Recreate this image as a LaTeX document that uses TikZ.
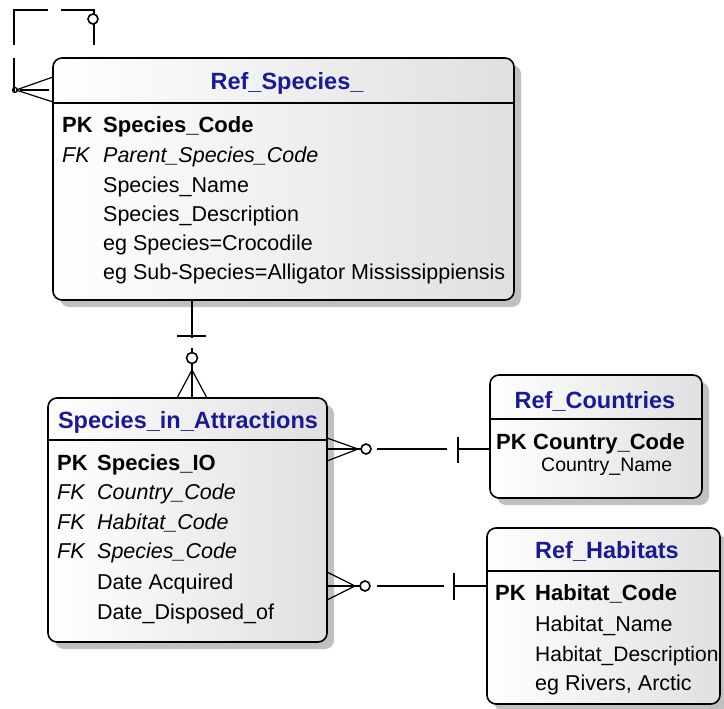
\documentclass[tikz,border=0pt]{standalone}
\usepackage{fontspec}
\setmainfont{Liberation Sans}
\usetikzlibrary{shadows}
\definecolor{titleblue}{RGB}{26,26,150}
\definecolor{boxgray}{RGB}{224,224,224}
\definecolor{shadowgray}{RGB}{192,192,192}
\begin{document}
\begin{tikzpicture}[x=1pt,y=-1pt,
  entity/.style={draw=black, line width=1.6pt, rounded corners=9pt, left color=white, right color=boxgray,
    inner sep=0pt, outer sep=0pt, anchor=north west,
    drop shadow={shadow xshift=7pt, shadow yshift=-7pt, fill=shadowgray, opacity=1}},
  ttl/.style={font=\fontsize{23.5}{28}\selectfont\bfseries, text=titleblue, anchor=base, inner sep=0pt},
  fld/.style={font=\fontsize{21.5}{25}\selectfont, anchor=base west, inner sep=0pt},
  pkstyle/.style={fld, font=\fontsize{22}{25}\selectfont\bfseries},
  fkstyle/.style={fld, font=\fontsize{21.5}{25}\selectfont\itshape},
  hdrline/.style={line width=1.6pt},
  relline/.style={line width=1.6pt},
  crowfoot/.style={line width=1.2pt}]
\useasboundingbox (0,0) rectangle (724,709);

% ---------- Ref_Species_ ----------
\node[entity, minimum width=461pt, minimum height=242pt] (rs) at (53,58) {};
\draw[hdrline] (53,103) -- (514,103);
\node[ttl] (rsT) at (287,90) {Ref\_Species\_};
\node[pkstyle] (rsK1) at (62,132) {PK};
\node[pkstyle] (rsF1) at (103,132) {Species\_Code};
\node[fkstyle] (rsK2) at (62,163) {FK};
\node[fkstyle] (rsF2) at (103,163) {Parent\_Species\_Code};
\node[fld] (rsF3) at (103,192) {Species\_Name};
\node[fld] (rsF4) at (103,221) {Species\_Description};
\node[fld] (rsF5) at (103,250) {eg Species=Crocodile};
\node[fld] (rsF6) at (103,279) {eg Sub-Species=Alligator Mississippiensis};

% ---------- Species_in_Attractions ----------
\node[entity, minimum width=279pt, minimum height=244pt] (sia) at (48,398) {};
\draw[hdrline] (48,440) -- (327,440);
\node[ttl] (siaT) at (188,428) {Species\_in\_Attractions};
\node[pkstyle] (siaK1) at (57,470) {PK};
\node[pkstyle] (siaF1) at (97,470) {Species\_IO};
\node[fkstyle] (siaK2) at (57,499) {FK};
\node[fkstyle] (siaF2) at (97,499) {Country\_Code};
\node[fkstyle] (siaK3) at (57,529) {FK};
\node[fkstyle] (siaF3) at (97,529) {Habitat\_Code};
\node[fkstyle] (siaK4) at (57,558) {FK};
\node[fkstyle] (siaF4) at (97,558) {Species\_Code};
\node[fld] (siaF5) at (97,589) {Date Acquired};
\node[fld] (siaF6) at (97,619) {Date\_Disposed\_of};

% ---------- Ref_Countries ----------
\node[entity, minimum width=212pt, minimum height=123pt] (rc) at (490,375) {};
\draw[hdrline] (490,419) -- (702,419);
\node[ttl] (rcT) at (595,408) {Ref\_Countries};
\node[pkstyle] (rcK1) at (496,449) {PK};
\node[pkstyle] (rcF1) at (533,449) {Country\_Code};
\node[fld, font=\fontsize{19.5}{23}\selectfont] (rcF2) at (541,471) {Country\_Name};

% ---------- Ref_Habitats ----------
\node[entity, minimum width=233pt, minimum height=176pt] (rh) at (487,528) {};
\draw[hdrline] (487,571) -- (720,571);
\node[ttl] (rhT) at (607,558) {Ref\_Habitats};
\node[pkstyle] (rhK1) at (495,600) {PK};
\node[pkstyle] (rhF1) at (535,600) {Habitat\_Code};
\node[fld] (rhF2) at (535,631) {Habitat\_Name};
\node[fld, font=\fontsize{21}{25}\selectfont] (rhF3) at (535,661) {Habitat\_Description};
\node[fld] (rhF4) at (535,690) {eg Rivers, Arctic};

% ---------- self relationship on Ref_Species_ ----------
\coordinate (slA) at (94,45);
\coordinate (slB) at (94,10);
\coordinate (slC) at (61,10);
\coordinate (slD) at (48,10);
\coordinate (slE) at (14,10);
\coordinate (slF) at (14,45);
\coordinate (slG) at (14,58);
\coordinate (slH) at (14,92);
\coordinate (slP) at (16,90);
\draw[relline] (slA) -- (slB) -- (slC);
\draw[relline] (slD) -- (slE) -- (slF);
\draw[relline] (slG) -- (slH);
\draw[relline, fill=white] (93,19) circle[radius=5pt];
\draw[crowfoot] (slP) -- (rs.west |- 0,77);
\draw[crowfoot] (20,90) -- (49,90);
\draw[crowfoot] (slP) -- (rs.west |- 0,102);
\draw[crowfoot] (15,90) circle[radius=2.5pt];

% ---------- Ref_Species_ -> Species_in_Attractions ----------
\coordinate (v1) at (rs.south -| 192,0);
\coordinate (v2) at (192,338);
\coordinate (v3) at (192,348);
\coordinate (v4) at (sia.north -| 192,0);
\coordinate (vApex) at (192,370);
\draw[relline] (v1) -- (v2);
\draw[relline] (177,336) -- (206,336);
\draw[relline] (v3) -- (v4);
\draw[relline, fill=white] (192,358) circle[radius=5.5pt];
\draw[crowfoot] (vApex) -- (sia.north -| 177,0);
\draw[crowfoot] (vApex) -- (sia.north -| 207,0);

% ---------- Species_in_Attractions -> Ref_Countries ----------
\coordinate (c1) at (sia.east |- 0,449);
\coordinate (cApex) at (358,449);
\coordinate (c2) at (377,449);
\coordinate (c3) at (447,449);
\coordinate (c4) at (458,449);
\coordinate (c5) at (rc.west |- 0,449);
\draw[relline] (c1) -- (362,449);
\draw[crowfoot] (cApex) -- (sia.east |- 0,438);
\draw[crowfoot] (cApex) -- (sia.east |- 0,461);
\draw[relline, fill=white] (366,449) circle[radius=5pt];
\draw[relline] (c2) -- (c3);
\draw[relline] (458,437) -- (458,463);
\draw[relline] (c4) -- (c5);

% ---------- Species_in_Attractions -> Ref_Habitats ----------
\coordinate (h1) at (sia.east |- 0,586);
\coordinate (hApex) at (355,586);
\coordinate (h2) at (377,586);
\coordinate (h3) at (444,586);
\coordinate (h4) at (454,586);
\coordinate (h5) at (rh.west |- 0,586);
\draw[relline] (h1) -- (360,586);
\draw[crowfoot] (hApex) -- (sia.east |- 0,572);
\draw[crowfoot] (hApex) -- (sia.east |- 0,600);
\draw[relline, fill=white] (365,586) circle[radius=5pt];
\draw[relline] (h2) -- (h3);
\draw[relline] (454,573) -- (454,600);
\draw[relline] (h4) -- (h5);
\end{tikzpicture}
\end{document}
